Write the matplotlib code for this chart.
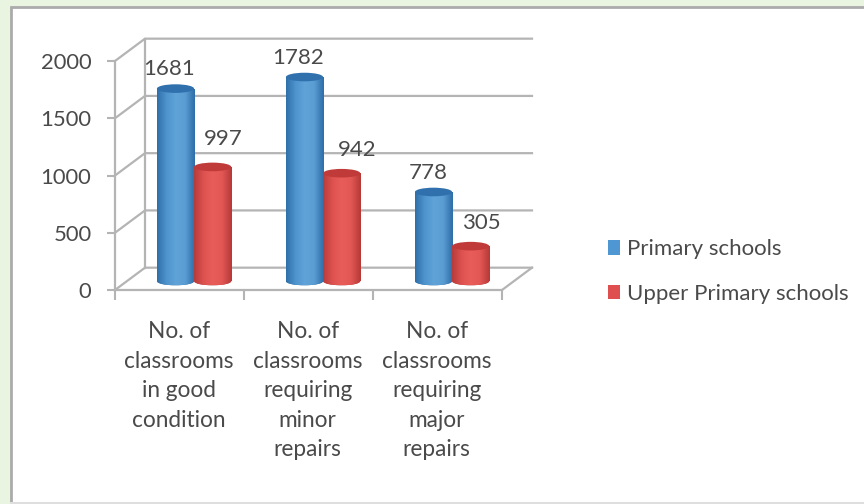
import matplotlib
matplotlib.use("Agg")
import matplotlib.pyplot as plt
import numpy as np
from matplotlib.colors import LinearSegmentedColormap
from matplotlib.patches import Ellipse, Patch, Rectangle

categories = [
    "No. of\nclassrooms\nin good\ncondition",
    "No. of\nclassrooms\nrequiring\nminor\nrepairs",
    "No. of\nclassrooms\nrequiring\nmajor\nrepairs",
]
primary = [1681, 1782, 778]
upper_primary = [997, 942, 305]
series_names = ["Primary schools", "Upper Primary schools"]
y_ticks = [0, 500, 1000, 1500, 2000]

W, H = 864, 504
TEXT = "#4a4a4a"
GRID = "#b4b4b4"

plt.rcParams["font.family"] = ["Lato", "DejaVu Sans"]

fig = plt.figure(figsize=(W / 100, H / 100), dpi=100, facecolor="#e9f4e1")

# white panel with grey edge, kept behind the axes
fig.add_artist(Rectangle((11 / W, -0.01), 1, 1 - 6.5 / H + 0.01, transform=fig.transFigure,
                         fc="white", ec="#ababab", lw=2.0, zorder=-2))
fig.add_artist(plt.Line2D([11 / W, 1], [1.5 / H, 1.5 / H], color="#dedede", lw=1.5, zorder=-1))

# plot box is the front of the floor, the back wall is shifted by depth
ax = fig.add_axes([115 / W, 1 - 290 / H, (502 - 115) / W, (290 - 61) / H])
ax.set_xlim(0, 3)
ax.set_ylim(0, 2000)
ax.patch.set_alpha(0)
for s in ["top", "right"]:
    ax.spines[s].set_visible(False)
for s in ["left", "bottom"]:
    ax.spines[s].set_color(GRID)
    ax.spines[s].set_linewidth(1.6)

depth_x = 30 / 129
depth_y = 195

# back wall, side wall and floor
for v in y_ticks:
    ax.plot([0, depth_x, 3 + depth_x], [v, v + depth_y, v + depth_y], color=GRID, lw=1.6,
            clip_on=False, zorder=1)
ax.plot([depth_x, depth_x], [depth_y, 2000 + depth_y], color=GRID, lw=1.6, clip_on=False, zorder=1)
ax.plot([3, 3 + depth_x], [0, depth_y], color=GRID, lw=1.6, clip_on=False, zorder=1)

ax.set_yticks(y_ticks)
ax.set_xticks([0, 1, 2, 3])
ax.set_xticklabels([])
ax.tick_params(axis="y", length=6, width=1.5, color=GRID, labelsize=15.8, labelcolor=TEXT, pad=11)
ax.tick_params(axis="x", length=7, width=1.5, color=GRID)

for i, lab in enumerate(categories):
    ax.annotate(lab, (i + 0.5, 0), xycoords=("data", "data"), xytext=(-0.5, -22.5),
                textcoords="offset points", ha="center", va="top", fontsize=16.3,
                color=TEXT, linespacing=1.5)

blue_map = LinearSegmentedColormap.from_list("b", ["#2f70ab", "#4f94cd", "#5fa3d8", "#5a9dd3", "#2f6ea8"])
red_map = LinearSegmentedColormap.from_list("r", ["#b83c3a", "#de5250", "#e85c5a", "#e25654", "#b53a38"])
grad = np.linspace(0, 1, 64).reshape(1, -1)

bar_w = 0.288
base = 78
cap_h = 75


def cylinder(x0, value, cmap, top_color, edge):
    bar = ax.bar(x0, value, bar_w, bottom=base, align="edge", color=edge, lw=0, zorder=3)[0]
    foot = Ellipse((x0 + bar_w / 2, base), bar_w, cap_h, fc=edge, lw=0, zorder=3)
    ax.add_patch(foot)
    img = ax.imshow(grad, cmap=cmap, extent=(x0, x0 + bar_w, base - cap_h / 2, base + value),
                    aspect="auto", zorder=3.1)
    img.set_clip_path(bar)
    img_foot = ax.imshow(grad, cmap=cmap, extent=(x0, x0 + bar_w, base - cap_h / 2, base),
                         aspect="auto", zorder=3.1)
    img_foot.set_clip_path(foot)
    ax.add_patch(Ellipse((x0 + bar_w / 2, base + value), bar_w, cap_h, fc=top_color, lw=0,
                         zorder=3.2))


for i in range(3):
    cylinder(i + 0.325, primary[i], blue_map, "#2f70ad", "#2f6ea8")
    cylinder(i + 0.325 + bar_w, upper_primary[i], red_map, "#bf3a38", "#b83c3a")

ax.set_xlim(0, 3)
ax.set_ylim(0, 2000)

# data labels sit at hand-placed offsets above the bars
label_dx = [[-4.5, -4.5, -4], [7.5, 11, 8]]
label_dy = [[14, 14, 13.5], [20, 17, 17]]
for j, vals in enumerate([primary, upper_primary]):
    for i, v in enumerate(vals):
        ax.annotate(str(v), (i + 0.325 + bar_w * (j + 0.5), base + v),
                    xytext=(label_dx[j][i], label_dy[j][i]),
                    textcoords="offset points", ha="center", va="center", fontsize=16,
                    color=TEXT, annotation_clip=False, zorder=5)

handles = [Patch(fc="#4f97d3", ec="none"), Patch(fc="#df4f50", ec="none")]
leg = fig.legend(handles, series_names, loc="center left", bbox_to_anchor=(601 / W, 1 - 271.5 / H),
                 frameon=False, fontsize=16, labelcolor=TEXT, handlelength=0.56, handleheight=0.6,
                 handletextpad=0.33, labelspacing=1.1, borderpad=0.3, borderaxespad=0)

fig.savefig("out.png", dpi=100, facecolor=fig.get_facecolor())
plt.close(fig)
